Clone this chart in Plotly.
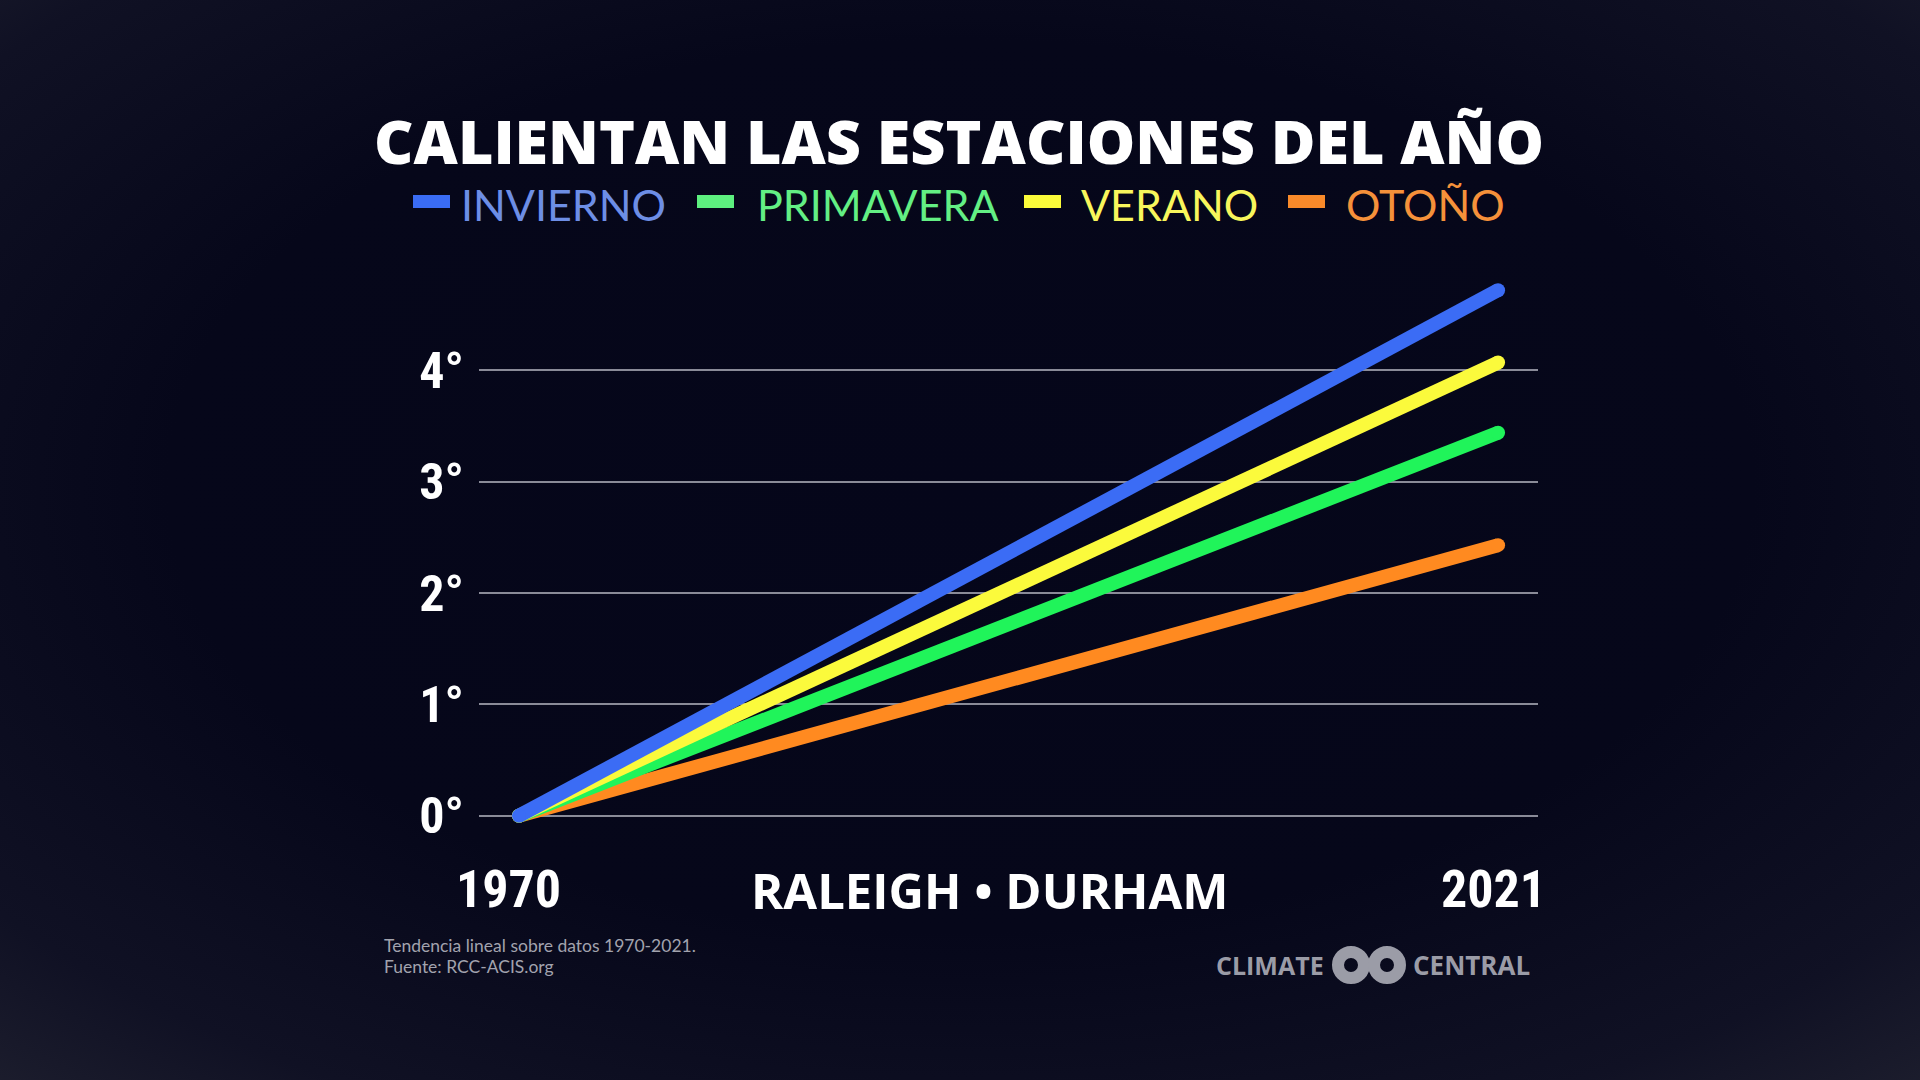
import base64
import plotly.graph_objects as go

# ---------------- data ----------------
years = [1970, 2021]
seasons = ["INVIERNO", "PRIMAVERA", "VERANO", "OTOÑO"]
invierno = [0, 4.72]
primavera = [0, 3.44]
verano = [0, 4.07]
otono = [0, 2.43]
y_ticks = [0, 1, 2, 3, 4]
y_tick_labels = ["0°", "1°", "2°", "3°", "4°"]

line_colors = {"INVIERNO": "#3b6cf5", "PRIMAVERA": "#20f45a", "VERANO": "#fbfa3c", "OTOÑO": "#ff8a20"}
legend_text_colors = {"INVIERNO": "#6d8ee6", "PRIMAVERA": "#63ef84", "VERANO": "#f8f65c", "OTOÑO": "#f5913a"}
legend_swatch_colors = {"INVIERNO": "#3a6cf4", "PRIMAVERA": "#5df07f", "VERANO": "#fbfb3a", "OTOÑO": "#f98a2a"}

# ---------------- layout geometry (pixels) ----------------
W, H = 1920, 1080
L, R, T, B = 479, 382, 259, 242
PW, PH = W - L - R, H - T - B


def px(x):
    return (x - L) / PW


def py(y):
    return (H - B - y) / PH


COND = "Roboto Condensed, DejaVu Sans Condensed, sans-serif"
GEO = "Open Sans, Lato, sans-serif"

fig = go.Figure()

series = [("OTOÑO", otono), ("PRIMAVERA", primavera), ("VERANO", verano), ("INVIERNO", invierno)]
for name, vals in series:
    fig.add_trace(go.Scatter(
        x=years, y=vals, mode="lines+markers", name=name,
        line=dict(color=line_colors[name], width=14),
        marker=dict(color=line_colors[name], size=14, line=dict(width=0)),
        showlegend=False, hoverinfo="skip",
    ))

svg = f'''<svg xmlns="http://www.w3.org/2000/svg" width="{W}" height="{H}" viewBox="0 0 {W} {H}" preserveAspectRatio="none">
<defs><radialGradient id="g" cx="50%" cy="45%" r="75%">
<stop offset="0" stop-color="#05061a"/>
<stop offset="0.55" stop-color="#06071a"/>
<stop offset="0.85" stop-color="#101124"/>
<stop offset="1" stop-color="#1c1d2d"/>
</radialGradient></defs>
<rect width="{W}" height="{H}" fill="url(#g)"/></svg>'''
src = "data:image/svg+xml;base64," + base64.b64encode(svg.encode()).decode()

annotations = []
shapes = []

annotations.append(dict(
    text="CALIENTAN LAS ESTACIONES DEL AÑO", xref="paper", yref="paper",
    x=px(959), y=py(140), xanchor="center", yanchor="middle", showarrow=False,
    font=dict(family=GEO, size=61, color="#ffffff", weight=800),
))

swatch_x = [413, 697, 1024, 1288]
text_x = [459, 755, 1079, 1344]
for name, sx, tx in zip(seasons, swatch_x, text_x):
    shapes.append(dict(type="rect", xref="paper", yref="paper",
                       x0=px(sx), x1=px(sx + 37), y0=py(208), y1=py(195),
                       fillcolor=legend_swatch_colors[name], line=dict(width=0)))
    annotations.append(dict(
        text=name, xref="paper", yref="paper", x=px(tx), y=py(204),
        xanchor="left", yanchor="middle", showarrow=False,
        font=dict(family="Lato, sans-serif", size=43, color=legend_text_colors[name]),
    ))

annotations.append(dict(text="1970", xref="x", yref="paper", x=years[0], y=py(889),
                        xshift=-10, xanchor="center", yanchor="middle", showarrow=False,
                        font=dict(family=COND, size=52, color="#ffffff", weight=700)))
annotations.append(dict(text="2021", xref="x", yref="paper", x=years[1], y=py(889),
                        xshift=-5, xanchor="center", yanchor="middle", showarrow=False,
                        font=dict(family=COND, size=52, color="#ffffff", weight=700)))

annotations.append(dict(text="RALEIGH • DURHAM", xref="paper", yref="paper",
                        x=px(990), y=py(890), xanchor="center", yanchor="middle", showarrow=False,
                        font=dict(family=GEO, size=49, color="#ffffff", weight=700)))

annotations.append(dict(text="Tendencia lineal sobre datos 1970-2021.",
                        xref="paper", yref="paper", x=px(382), y=py(945),
                        xanchor="left", yanchor="middle", align="left", showarrow=False,
                        font=dict(family="Lato, sans-serif", size=17.5, color="#a2a3ae")))
annotations.append(dict(text="Fuente: RCC-ACIS.org",
                        xref="paper", yref="paper", x=px(382), y=py(966),
                        xanchor="left", yanchor="middle", align="left", showarrow=False,
                        font=dict(family="Lato, sans-serif", size=17.5, color="#a2a3ae")))

logo_gray = "#9b9ca7"
annotations.append(dict(text="CLIMATE", xref="paper", yref="paper", x=px(1326), y=py(965),
                        xanchor="right", yanchor="middle", showarrow=False,
                        font=dict(family=GEO, size=25, color=logo_gray, weight=700)))
annotations.append(dict(text="CENTRAL", xref="paper", yref="paper", x=px(1411), y=py(965),
                        xanchor="left", yanchor="middle", showarrow=False,
                        font=dict(family=GEO, size=26, color=logo_gray, weight=700)))
for cx in (1351, 1387):
    r = 13
    shapes.append(dict(type="circle", xref="paper", yref="paper",
                       x0=px(cx - r), x1=px(cx + r), y0=py(965 + r), y1=py(965 - r),
                       line=dict(color=logo_gray, width=12)))

fig.update_layout(
    width=W, height=H, autosize=False,
    margin=dict(l=L, r=R, t=T, b=B, pad=0),
    paper_bgcolor="#07081a", plot_bgcolor="rgba(0,0,0,0)",
    images=[dict(source=src, xref="paper", yref="paper", x=px(0), y=py(0),
                 sizex=W / PW, sizey=H / PH, xanchor="left", yanchor="top",
                 sizing="stretch", layer="below")],
    xaxis=dict(range=[1967.92, 2023.08], showgrid=False, zeroline=False,
               showticklabels=False, ticks="", showline=False, fixedrange=True),
    yaxis=dict(range=[-0.2, 5.0], tickvals=y_ticks, ticktext=y_tick_labels,
               showgrid=True, gridcolor="#8a8b98", gridwidth=1.5, zeroline=False,
               showline=False, ticks="", ticklabelstandoff=14,
               tickfont=dict(family=COND, size=50, color="#ffffff", weight=700),
               fixedrange=True),
    annotations=annotations, shapes=shapes,
    showlegend=False,
)

fig.write_html("out.html")
